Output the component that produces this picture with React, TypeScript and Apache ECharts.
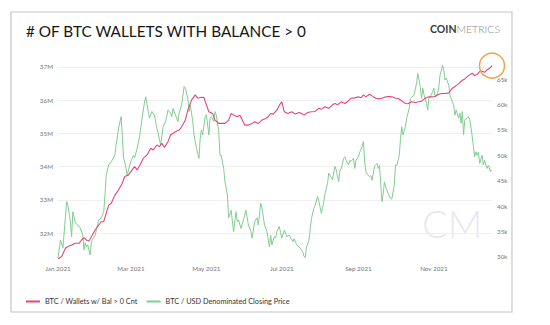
import React, { useEffect, useRef } from "react";
import * as echarts from "echarts";

const TITLE = "# OF BTC WALLETS WITH BALANCE > 0";
const BRAND_BOLD = "COIN";
const BRAND_LIGHT = "METRICS";
const WATERMARK = "CM";
const walletSeriesName = "BTC / Wallets w/ Bal > 0 Cnt";
const priceSeriesName = "BTC / USD Denominated Closing Price";
const YEAR = "2021";
const xRange = ["2021-01-01", "2021-12-18"];
const walletAxisRange = [31.157, 37.3]; // millions
const priceAxisRange = [29.21, 69.33]; // thousand USD

// BTC wallets with balance > 0 (millions)
const walletDates = [
  "01-01", "01-04", "01-07", "01-09", "01-12", "01-15", "01-18", "01-20", "01-22", "01-24", "01-26", "01-28", "01-31",
  "02-03", "02-05", "02-07", "02-09", "02-11", "02-13", "02-16", "02-19", "02-22", "02-24", "02-27",
  "03-02", "03-04", "03-06", "03-09", "03-11", "03-14", "03-17", "03-19", "03-22", "03-24", "03-26", "03-28", "03-31",
  "04-02", "04-06", "04-09", "04-11", "04-14", "04-16", "04-19", "04-22", "04-24", "04-27", "04-29",
  "05-01", "05-03", "05-06", "05-08", "05-11", "05-13", "05-16", "05-19", "05-21", "05-23", "05-26", "05-28", "05-30",
  "06-01", "06-04", "06-07", "06-09", "06-12", "06-15", "06-18", "06-20", "06-22", "06-24", "06-27", "06-29",
  "07-01", "07-03", "07-06", "07-09", "07-12", "07-15", "07-17", "07-19", "07-22", "07-25", "07-28", "07-31",
  "08-02", "08-05", "08-08", "08-11", "08-13", "08-15", "08-18", "08-21", "08-23", "08-26", "08-29",
  "09-01", "09-03", "09-05", "09-07", "09-10", "09-12", "09-15", "09-17", "09-20", "09-23", "09-26", "09-28",
  "10-01", "10-03", "10-06", "10-09", "10-11", "10-14", "10-17", "10-20", "10-22", "10-25", "10-28", "10-30",
  "11-02", "11-05", "11-07", "11-10", "11-13", "11-16", "11-18", "11-21", "11-24", "11-26", "11-29",
  "12-02", "12-04", "12-06", "12-08", "12-10", "12-12", "12-14", "12-16", "12-18",
];
const walletCountM = [
  31.22, 31.29, 31.54, 31.59, 31.64, 31.69, 31.69, 31.79, 31.86, 31.79, 31.76, 31.89, 32.09,
  32.24, 32.34, 32.34, 32.59, 32.84, 32.89, 33.14, 33.3, 33.5, 33.7, 33.75,
  33.9, 34.0, 33.9, 34.1, 34.25, 34.35, 34.55, 34.5, 34.65, 34.6, 34.7, 34.58, 34.75,
  34.95, 35.05, 35.1, 35.2, 35.4, 35.7, 36.0, 36.16, 36.06, 36.09, 36.08,
  35.86, 35.65, 35.6, 35.4, 35.3, 35.3, 35.3, 35.4, 35.6, 35.55, 35.5, 35.55, 35.4,
  35.25, 35.25, 35.3, 35.35, 35.3, 35.4, 35.45, 35.5, 35.6, 35.58, 35.7, 35.85,
  35.95, 35.65, 35.6, 35.65, 35.58, 35.63, 35.6, 35.55, 35.63, 35.65, 35.66, 35.76,
  35.73, 35.8, 35.75, 35.86, 35.9, 35.86, 35.95, 35.9, 35.95, 36.06, 36.07,
  36.1, 36.07, 36.16, 36.1, 36.18, 36.13, 36.06, 36.04, 36.06, 36.1, 36.11, 36.1,
  36.06, 36.05, 35.98, 35.9, 35.89, 35.95, 35.93, 35.95, 35.97, 36.06, 36.1, 36.1,
  36.11, 36.18, 36.2, 36.2, 36.22, 36.36, 36.41, 36.5, 36.6, 36.64, 36.74,
  36.81, 36.74, 36.77, 36.86, 36.87, 36.84, 36.91, 36.96, 37.04,
];

// BTC / USD closing price (thousand USD)
const priceDates = [
  "01-01", "01-03", "01-05", "01-08", "01-09", "01-11", "01-12", "01-13", "01-15", "01-17", "01-19", "01-21", "01-22", "01-23", "01-24", "01-25", "01-27", "01-28", "01-31",
  "02-03", "02-05", "02-07", "02-08", "02-09", "02-11", "02-13", "02-16", "02-17", "02-19", "02-21", "02-22", "02-23", "02-24", "02-26", "02-28",
  "03-01", "03-03", "03-04", "03-06", "03-08", "03-10", "03-12", "03-13", "03-15", "03-16", "03-18", "03-20", "03-22", "03-23", "03-25", "03-27", "03-29", "03-31",
  "04-02", "04-03", "04-04", "04-06", "04-08", "04-09", "04-11", "04-13", "04-14", "04-16", "04-17", "04-18", "04-20", "04-21", "04-23", "04-25", "04-26", "04-27", "04-28", "04-30",
  "05-01", "05-03", "05-04", "05-05", "05-07", "05-08", "05-09", "05-11", "05-12", "05-13", "05-15", "05-16", "05-18", "05-19", "05-21", "05-23", "05-25", "05-26", "05-27", "05-29", "05-31",
  "06-02", "06-04", "06-06", "06-07", "06-09", "06-11", "06-12", "06-14", "06-15", "06-17", "06-19", "06-21", "06-22", "06-23", "06-25", "06-26", "06-27", "06-29", "06-30",
  "07-01", "07-03", "07-05", "07-07", "07-10", "07-11", "07-13", "07-16", "07-18", "07-19", "07-20", "07-21", "07-23", "07-24", "07-25", "07-27", "07-28", "07-30", "07-31",
  "08-02", "08-04", "08-05", "08-07", "08-08", "08-10", "08-11", "08-13", "08-14", "08-16", "08-17", "08-18", "08-20", "08-21", "08-22", "08-24", "08-25", "08-26", "08-28", "08-29", "08-30",
  "09-01", "09-02", "09-04", "09-05", "09-06", "09-07", "09-08", "09-10", "09-11", "09-12", "09-14", "09-16", "09-17", "09-18", "09-20", "09-21", "09-22", "09-23", "09-24", "09-25", "09-27", "09-28", "09-30",
  "10-01", "10-02", "10-04", "10-05", "10-06", "10-07", "10-09", "10-10", "10-12", "10-13", "10-14", "10-16", "10-18", "10-19", "10-21", "10-22", "10-23", "10-24", "10-26", "10-27", "10-28", "10-29", "10-31",
  "11-01", "11-02", "11-04", "11-05", "11-06", "11-08", "11-09", "11-10", "11-11", "11-13", "11-14", "11-16", "11-17", "11-18", "11-19", "11-21", "11-22", "11-23", "11-24", "11-25", "11-26", "11-28", "11-29", "11-30",
  "12-01", "12-03", "12-04", "12-05", "12-06", "12-07", "12-08", "12-10", "12-11", "12-12", "12-14", "12-15", "12-17", "12-18",
];
const priceUsdK = [
  29.8, 33.3, 31.8, 40.9, 40.2, 36.9, 34.0, 38.9, 36.7, 36.3, 35.7, 34.3, 31.4, 32.8, 32.0, 32.4, 30.4, 33.0, 34.3,
  37.3, 37.7, 38.9, 42.2, 46.1, 48.1, 48.7, 50.0, 52.0, 55.3, 57.6, 54.0, 49.4, 48.7, 46.1, 48.1,
  48.8, 50.0, 49.5, 51.4, 53.7, 57.3, 60.5, 61.5, 58.6, 57.3, 58.6, 57.9, 55.3, 54.4, 52.0, 55.6, 56.6, 58.9,
  58.3, 57.6, 59.2, 57.9, 56.6, 58.3, 59.9, 63.5, 63.2, 61.2, 58.6, 59.9, 56.6, 54.0, 51.4, 49.4, 53.3, 55.0, 54.0, 57.6,
  58.0, 54.0, 57.3, 57.6, 56.6, 58.6, 57.9, 54.6, 50.0, 50.0, 47.4, 44.8, 42.2, 37.7, 39.2, 35.0, 38.9, 36.9, 37.3, 35.6, 37.3,
  39.2, 36.3, 35.0, 33.7, 36.9, 37.7, 36.3, 40.6, 39.6, 36.3, 35.0, 32.0, 34.3, 32.4, 34.0, 33.7, 35.0, 36.0, 34.8,
  33.7, 35.3, 34.0, 34.3, 33.0, 33.6, 32.4, 31.7, 31.0, 30.1, 29.9, 32.0, 33.3, 35.6, 37.6, 39.6, 40.2, 41.9, 40.9,
  38.6, 40.9, 42.5, 44.5, 46.5, 45.6, 45.2, 47.8, 47.1, 44.8, 47.1, 47.3, 49.4, 49.7, 49.0, 48.1, 49.0, 48.8, 49.4, 47.4, 49.0,
  49.7, 50.6, 51.7, 52.7, 48.7, 46.8, 46.3, 45.8, 46.0, 45.1, 47.8, 48.4, 47.4, 48.0, 40.9, 42.4, 44.8, 43.8, 43.2, 42.5, 41.5, 41.4, 44.2,
  48.1, 48.0, 50.0, 53.3, 55.6, 54.0, 55.6, 57.3, 59.2, 61.2, 61.4, 61.9, 64.2, 66.1, 63.5, 61.2, 63.2, 61.9, 60.2, 58.9, 61.2, 61.5, 62.5,
  63.2, 61.5, 62.2, 63.5, 65.8, 67.7, 66.8, 64.8, 65.2, 63.8, 61.9, 60.5, 59.9, 57.9, 58.9, 57.3, 58.3, 56.3, 58.6, 54.0, 57.0, 57.3, 57.6, 57.0,
  55.6, 51.7, 49.7, 50.7, 50.0, 50.6, 48.4, 50.0, 48.1, 49.0, 47.4, 48.0, 46.8, 47.1,
];

const RED = "#e4457a";
const GREEN = "#82cc90";
const FONT = "Lato, 'Open Sans', sans-serif";
const MONTHS = ["Jan", "Feb", "Mar", "Apr", "May", "Jun", "Jul", "Aug", "Sep", "Oct", "Nov", "Dec"];

const isWhole = (v: number, step: number) => Math.abs(v / step - Math.round(v / step)) < 1e-6;

export default function App() {
  const ref = useRef<HTMLDivElement>(null);
  useEffect(() => {
    if (!ref.current) return;
    const chart = echarts.init(ref.current, null, { renderer: "svg" });
    const walletData = walletDates.map((d, i) => [`${YEAR}-${d}`, walletCountM[i]]);
    const priceData = priceDates.map((d, i) => [`${YEAR}-${d}`, priceUsdK[i]]);
    chart.setOption({
      animation: false,
      backgroundColor: "#ffffff",
      textStyle: { fontFamily: FONT },
      title: {
        text: TITLE,
        left: 21,
        top: 18,
        textStyle: { fontSize: 15.3, fontWeight: "normal", fontFamily: FONT, color: "#151515" },
      },
      graphic: [
        {
          type: "rect",
          shape: { x: 11, y: 12, width: 501, height: 300 },
          style: { fill: "none", stroke: "#c6c6c6", lineWidth: 1.2 },
          silent: true,
          z: -10,
        },
        {
          type: "text",
          right: 50,
          top: 23,
          style: {
            text: `{b|${BRAND_BOLD}}{l|${BRAND_LIGHT}}`,
            rich: {
              b: { fontSize: 10.5, fontWeight: "bold", fill: "#3a3a3a", fontFamily: FONT },
              l: { fontSize: 10.5, fontWeight: 300, fill: "#8a8a8a", fontFamily: FONT },
            },
          },
        },
        {
          type: "text",
          left: 422,
          top: 204,
          z: -5,
          silent: true,
          style: { text: WATERMARK, fontSize: 38, fontWeight: 300, fill: "#e8e8f1", fontFamily: FONT },
        },
      ],
      legend: {
        left: 21,
        top: 293,
        itemWidth: 14,
        itemHeight: 2,
        itemGap: 9,
        icon: "rect",
        textStyle: { fontSize: 7.3, color: "#333", fontFamily: FONT },
        data: [walletSeriesName, priceSeriesName],
      },
      grid: { left: 58, right: 58, top: 57, bottom: 64, containLabel: false },
      xAxis: {
        type: "time",
        min: xRange[0],
        max: xRange[1],
        splitNumber: 5,
        axisLine: { show: false },
        axisTick: { show: false },
        splitLine: { show: false },
        axisLabel: {
          fontSize: 6.3,
          color: "#777",
          margin: 4,
          fontFamily: FONT,
          formatter: (v: number) => {
            const d = new Date(v);
            return `${MONTHS[d.getMonth()]} ${d.getFullYear()}`;
          },
        },
      },
      yAxis: [
        {
          type: "value",
          position: "left",
          min: walletAxisRange[0],
          max: walletAxisRange[1],
          splitNumber: 6,
          axisLine: { show: false },
          axisTick: { show: false },
          splitLine: { show: true, showMinLine: false, showMaxLine: false, lineStyle: { color: "#efefef", width: 1 } },
          axisLabel: {
            fontSize: 6.3,
            color: "#777",
            margin: 5,
            fontFamily: FONT,
            formatter: (v: number) => (isWhole(v, 1) ? `${Math.round(v)}M` : ""),
          },
        },
        {
          type: "value",
          position: "right",
          min: priceAxisRange[0],
          max: priceAxisRange[1],
          splitNumber: 8,
          axisLine: { show: false },
          axisTick: { show: false },
          splitLine: { show: false },
          axisLabel: {
            fontSize: 6.3,
            color: "#777",
            margin: 5,
            fontFamily: FONT,
            formatter: (v: number) => (isWhole(v, 5) ? `${Math.round(v)}k` : ""),
          },
        },
      ],
      series: [
        {
          name: priceSeriesName,
          type: "line",
          yAxisIndex: 1,
          data: priceData,
          showSymbol: false,
          symbol: "none",
          lineStyle: { color: GREEN, width: 1 },
          itemStyle: { color: GREEN },
          z: 2,
        },
        {
          name: walletSeriesName,
          type: "line",
          yAxisIndex: 0,
          data: walletData,
          showSymbol: false,
          symbol: "none",
          lineStyle: { color: RED, width: 1.1 },
          itemStyle: { color: RED },
          z: 3,
          markPoint: {
            symbol: "circle",
            symbolSize: 25,
            silent: true,
            label: { show: false },
            itemStyle: { color: "rgba(255,255,255,0)", borderColor: "#f2a04e", borderWidth: 1.5 },
            data: [{ type: "max" }],
          },
        },
      ],
    });
    return () => chart.dispose();
  }, []);
  return (
    <div
      ref={ref}
      style={{ position: "fixed", left: 0, top: 0, width: 550, height: 325, background: "#fff" }}
    />
  );
}
